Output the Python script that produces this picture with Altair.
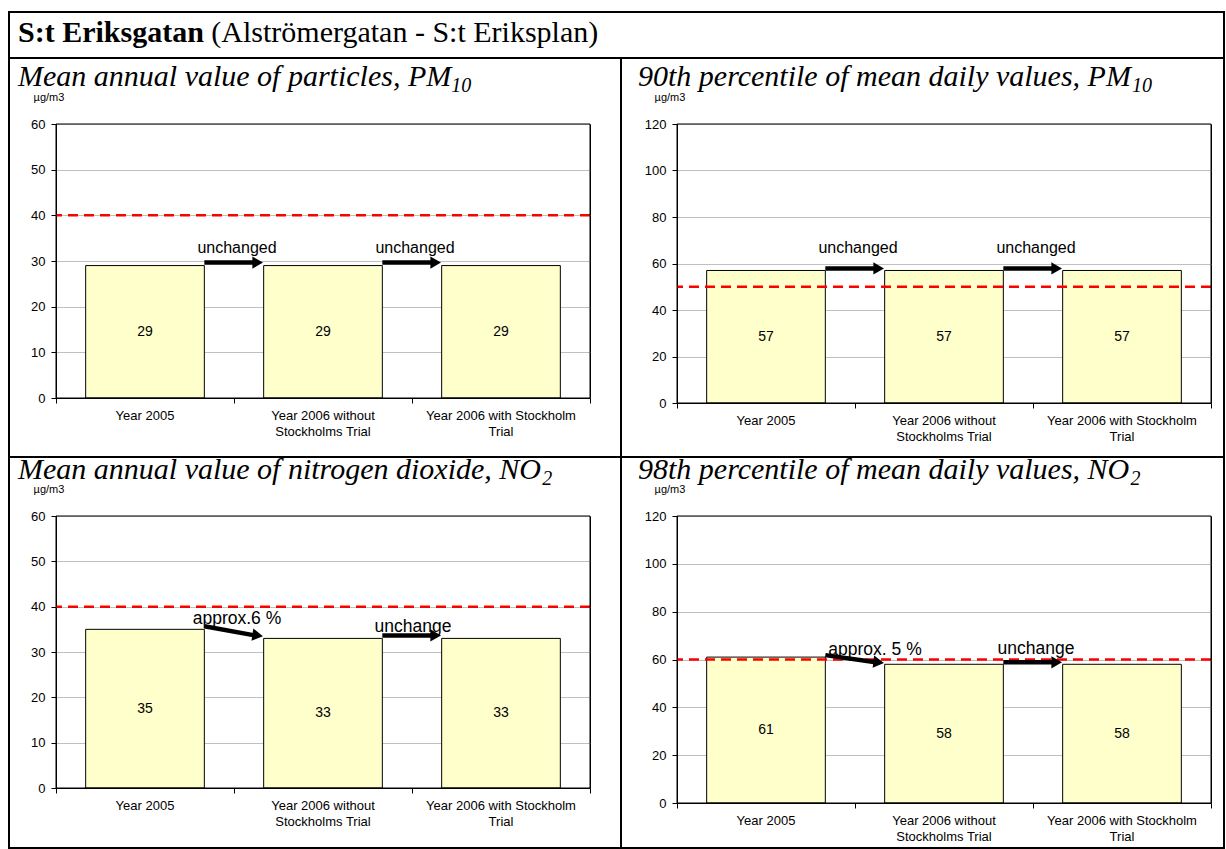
import math

import altair as alt
import pandas as pd

# ---- text ----
heading_bold = "S:t Eriksgatan"
heading_rest = "(Alströmergatan - S:t Eriksplan)"
unit_label = "µg/m3"

categories = [
    "Year 2005",
    "Year 2006 without\nStockholms Trial",
    "Year 2006 with Stockholm\nTrial",
]

# ---- values (µg/m3) ----
pm10_annual = [29, 29, 29]
pm10_p90 = [57, 57, 57]
no2_annual = [35, 33, 33]
no2_p98 = [61, 58, 58]

limit_values = [40, 50, 40, 60]
axis_max = [60, 120, 60, 120]
axis_step = [10, 20, 10, 20]

change_notes = [
    ["unchanged", "unchanged"],
    ["unchanged", "unchanged"],
    ["approx.6 %", "unchange"],
    ["approx. 5 %", "unchange"],
]

panel_titles = [
    ("Mean annual value of particles, PM", "10"),
    ("90th percentile of mean daily values, PM", "10"),
    ("Mean annual value of nitrogen dioxide, NO", "2"),
    ("98th percentile of mean daily values, NO", "2"),
]

# ---- layout (pixels) ----
PLOT_W = 534
ORIGINS = [(55, 123), (676, 123), (55, 515), (676, 515)]
HEIGHTS = [274, 279, 272, 287]
# (dx, dy) of each change note, measured from the gap centre at the left bar's top
NOTE_SHIFT = [
    [(3, -13), (3, -13)],
    [(3, -17), (3, -17)],
    [(3, -5), (1, -6)],
    [(20, -2), (3, -10)],
]
NOTE_SIZE = [16, 16, 17.5, 17.5]
ARROW_LIFT = [-3, -2, -3, -2]
TITLE_X = [17, 637, 17, 637]
TITLE_BASE = [85, 85, 478, 478]
TITLE_SIZE = 30
SUB_SIZE = 20
HEAD_SIZE = 30
FRAME = dict(left=8, right=1223, top=11, head=57, mid=456, bottom=847, split=620)

# Times-style advance widths (per 1000 em) used to place subscripts
ITALIC_W = {
    "M": 833, "e": 444, "a": 500, "n": 500, " ": 250, "u": 500, "l": 278,
    "v": 444, "o": 500, "f": 278, "p": 500, "r": 389, "t": 278, "i": 278,
    "c": 444, "s": 389, ",": 250, "P": 611, "h": 500, "m": 722, "d": 500,
    "y": 444, "g": 500, "x": 444, "N": 667, "O": 722,
}
BOLD_W = {
    "S": 556, ":": 333, "t": 333, " ": 250, "E": 667, "r": 444, "i": 278,
    "k": 556, "s": 389, "g": 500, "a": 500, "n": 556,
}


def text_width(s, table, size):
    return sum(table.get(ch, 500) for ch in s) / 1000 * size


FONT_SANS = "Liberation Sans"
FONT_SERIF = "Liberation Serif"
blank = alt.Data(values=[{"k": 0}])


def line(x1, y1, x2, y2, ox, oy):
    return alt.Chart(blank).mark_rule(
        color="black", strokeWidth=2, strokeCap="square"
    ).encode(
        x=alt.value(x1 - ox), x2=alt.value(x2 - ox),
        y=alt.value(y1 - oy), y2=alt.value(y2 - oy),
    )


def make_panel(k, values):
    ox, oy = ORIGINS[k]
    h = HEIGHTS[k]
    ymax = axis_max[k]

    xs = alt.Scale(domain=[0, 3], nice=False, zero=False)
    ys = alt.Scale(domain=[0, ymax], nice=False, zero=True)
    x_axis = alt.Axis(
        values=[0, 1, 2, 3], labels=False, title=None, grid=False,
        tickSize=5, tickColor="black", domainColor="black",
    )
    y_axis = alt.Axis(
        values=list(range(0, ymax + 1, axis_step[k])), title=None, grid=True,
        gridColor="#C0C0C0", tickSize=5, tickColor="black", domainColor="black",
        labelFont=FONT_SANS, labelFontSize=13, labelColor="black", labelPadding=6,
    )

    def X(f):
        return alt.X(f, type="quantitative", scale=xs, axis=x_axis)

    def Y(f):
        return alt.Y(f, type="quantitative", scale=ys, axis=y_axis)

    bars = pd.DataFrame({"cat": categories, "value": values, "idx": [0, 1, 2]})
    bars["left"] = bars["idx"] + 1 / 6
    bars["right"] = bars["idx"] + 5 / 6
    bars["center"] = bars["idx"] + 0.5
    bars["mid"] = bars["value"] / 2
    bars["base"] = 0

    px_per_unit = h / ymax
    gap_px = PLOT_W / 9
    rows = []
    for i in range(2):
        a, b = values[i], values[i + 1]
        ang = math.degrees(math.atan2((a - b) * px_per_unit, gap_px)) % 360
        rows.append(dict(
            x_from=i + 5 / 6, x_to=i + 1 + 1 / 6, x_mid=i + 1,
            v_from=a, v_to=b, note=change_notes[k][i], ang=ang,
        ))
    arrows = pd.DataFrame(rows)
    lift = ARROW_LIFT[k]

    rect = alt.Chart(bars).mark_rect(
        fill="#FFFFCC", stroke="black", strokeWidth=1
    ).encode(x=X("left"), x2="right", y=Y("value"), y2="base")

    limit = alt.Chart(pd.DataFrame({"limit": [limit_values[k]]})).mark_rule(
        color="#FF0000", strokeWidth=2.5, strokeDash=[10, 6]
    ).encode(y=Y("limit"))

    border = alt.Chart(blank).mark_rect(
        fillOpacity=0, stroke="black", strokeWidth=1
    ).encode(
        x=alt.value(0), x2=alt.value(PLOT_W), y=alt.value(0), y2=alt.value(h)
    )

    shaft = alt.Chart(arrows).mark_rule(
        color="black", strokeWidth=4.5, yOffset=lift, y2Offset=lift, x2Offset=-9
    ).encode(x=X("x_from"), x2="x_to", y=Y("v_from"), y2="v_to")

    head = alt.Chart(arrows).mark_point(
        shape="triangle-right", filled=True, color="black", opacity=1,
        size=150, xOffset=-6, yOffset=lift,
    ).encode(x=X("x_to"), y=Y("v_to"), angle=alt.Angle("ang:Q", scale=None))

    notes = []
    for i in range(2):
        dx, dy = NOTE_SHIFT[k][i]
        notes.append(
            alt.Chart(arrows.iloc[[i]]).mark_text(
                font=FONT_SANS, fontSize=NOTE_SIZE[k], color="black",
                baseline="alphabetic", dx=dx, dy=dy,
            ).encode(x=X("x_mid"), y=Y("v_from"), text="note:N")
        )

    value_text = alt.Chart(bars).mark_text(
        font=FONT_SANS, fontSize=14, color="black"
    ).encode(x=X("center"), y=Y("mid"), text="value:Q")

    cat_text = alt.Chart(bars).mark_text(
        font=FONT_SANS, fontSize=13, color="black", baseline="top",
        lineBreak="\n", lineHeight=16,
    ).encode(x=X("center"), y=alt.value(h + 12), text="cat:N")

    unit = alt.Chart(blank).mark_text(
        font=FONT_SANS, fontSize=11, color="black"
    ).encode(x=alt.value(-7), y=alt.value(-26), text=alt.value(unit_label))

    title, sub = panel_titles[k]
    t_main = alt.Chart(blank).mark_text(
        font=FONT_SERIF, fontStyle="italic", fontSize=TITLE_SIZE, color="black",
        align="left", baseline="alphabetic",
    ).encode(
        x=alt.value(TITLE_X[k] - ox), y=alt.value(TITLE_BASE[k] - oy),
        text=alt.value(title),
    )
    t_sub = alt.Chart(blank).mark_text(
        font=FONT_SERIF, fontStyle="italic", fontSize=SUB_SIZE, color="black",
        align="left", baseline="alphabetic",
    ).encode(
        x=alt.value(TITLE_X[k] + text_width(title, ITALIC_W, TITLE_SIZE) - ox),
        y=alt.value(TITLE_BASE[k] + 6 - oy),
        text=alt.value(sub),
    )

    layers = [rect, limit, border, shaft, head, *notes, value_text, cat_text,
              unit, t_main, t_sub]

    if k == 0:
        f = FRAME
        layers += [
            line(f["left"], f["top"], f["right"], f["top"], ox, oy),
            line(f["left"], f["bottom"], f["right"], f["bottom"], ox, oy),
            line(f["left"], f["top"], f["left"], f["bottom"], ox, oy),
            line(f["right"], f["top"], f["right"], f["bottom"], ox, oy),
            line(f["left"], f["head"], f["right"], f["head"], ox, oy),
            line(f["left"], f["mid"], f["right"], f["mid"], ox, oy),
            line(f["split"], f["head"], f["split"], f["bottom"], ox, oy),
        ]
        bold_w = text_width(heading_bold, BOLD_W, HEAD_SIZE)
        layers += [
            alt.Chart(blank).mark_text(
                font=FONT_SERIF, fontWeight="bold", fontSize=HEAD_SIZE, color="black",
                align="left", baseline="alphabetic",
            ).encode(x=alt.value(17 - ox), y=alt.value(41 - oy), text=alt.value(heading_bold)),
            alt.Chart(blank).mark_text(
                font=FONT_SERIF, fontSize=HEAD_SIZE, color="black",
                align="left", baseline="alphabetic",
            ).encode(
                x=alt.value(17 + bold_w + 0.25 * HEAD_SIZE - ox), y=alt.value(41 - oy),
                text=alt.value(heading_rest),
            ),
        ]

    return alt.layer(*layers).properties(width=PLOT_W, height=h)


panels = [
    make_panel(0, pm10_annual),
    make_panel(1, pm10_p90),
    make_panel(2, no2_annual),
    make_panel(3, no2_p98),
]

chart = alt.concat(
    *panels, columns=2, spacing={"row": 113, "column": 87}
).properties(
    bounds="flush", align="each", background="white",
    padding={"left": 7, "top": 10, "right": 0, "bottom": 0},
).configure_view(stroke="black", strokeWidth=1)

chart.save("out.html", embed_options={"renderer": "svg", "actions": False})
